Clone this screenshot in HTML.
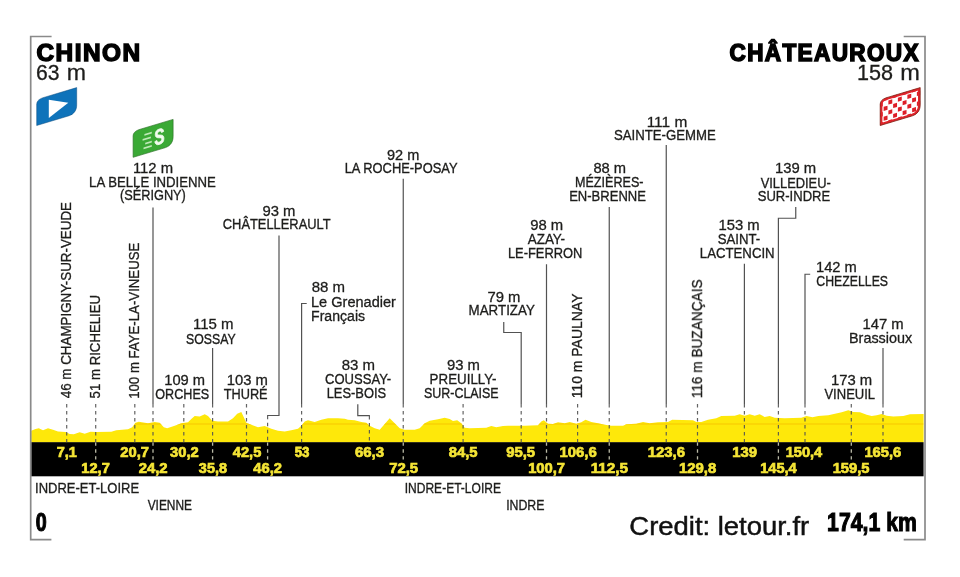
<!DOCTYPE html>
<html><head><meta charset="utf-8"><title>Stage profile</title>
<style>
html,body{margin:0;padding:0;background:#fff;}
body{width:960px;height:577px;overflow:hidden;font-family:"Liberation Sans",sans-serif;}
svg{display:block;font-family:"Liberation Sans",sans-serif;}
</style></head><body>
<svg width="960" height="577" viewBox="0 0 960 577">
<rect width="960" height="577" fill="#fff"/>
<!-- profile -->
<path d="M31.2,430.7 L35.5,429.0 L38.8,428.2 L43.0,430.2 L48.0,428.2 L53.0,429.8 L58.0,431.5 L65.5,432.0 L69.7,434.0 L73.8,434.3 L79.7,432.3 L84.7,433.7 L90.5,431.8 L96.3,432.0 L111.3,431.7 L116.3,430.2 L128.0,429.3 L132.2,427.3 L135.5,422.7 L138.8,421.8 L148.0,423.2 L154.7,422.0 L159.7,422.7 L163.8,427.3 L167.2,428.2 L174.7,425.7 L181.3,423.2 L188.0,422.3 L191.3,419.0 L194.7,416.0 L199.7,416.5 L204.7,414.3 L208.0,416.0 L212.2,420.7 L218.0,421.5 L228.0,421.5 L233.0,418.2 L237.2,413.7 L241.3,412.0 L243.8,417.3 L246.3,422.7 L251.3,424.8 L258.0,427.3 L264.7,426.0 L271.3,428.7 L278.0,430.7 L284.7,431.5 L291.3,430.3 L298.0,428.7 L301.3,425.7 L304.7,421.5 L308.0,420.3 L314.7,422.0 L321.3,419.8 L328.0,418.2 L338.0,418.2 L344.7,418.7 L348.0,419.8 L354.7,420.3 L361.3,422.0 L366.3,422.7 L369.7,425.7 L374.7,428.2 L379.7,429.8 L384.7,424.0 L389.7,418.2 L394.7,423.2 L399.7,428.2 L404.7,429.8 L414.7,429.8 L419.7,428.2 L424.7,423.2 L429.7,420.7 L438.0,419.3 L444.7,417.7 L449.7,419.0 L453.0,421.0 L457.2,420.3 L461.3,423.2 L464.7,427.7 L469.7,428.3 L486.3,427.7 L491.3,426.0 L496.3,427.3 L503.0,426.0 L508.0,425.7 L524.7,425.7 L538.0,425.3 L541.3,421.5 L543.8,420.3 L548.0,423.7 L553.0,424.0 L558.0,422.3 L564.7,423.2 L569.7,422.0 L576.3,423.7 L581.3,422.3 L585.5,419.8 L591.3,422.0 L598.0,423.2 L604.7,424.8 L611.3,425.7 L623.0,425.7 L626.3,424.3 L636.3,423.7 L643.0,422.0 L649.7,423.2 L658.0,422.3 L668.0,422.0 L672.2,419.8 L693.0,420.2 L696.3,422.0 L701.3,422.0 L708.0,419.8 L716.3,418.2 L721.3,416.0 L734.7,415.7 L739.7,414.3 L744.7,415.7 L749.7,414.3 L754.7,415.7 L759.7,414.3 L764.7,417.0 L769.7,416.0 L774.7,417.7 L784.7,418.2 L801.3,417.7 L806.5,416.0 L812.5,417.3 L818.3,416.0 L828.3,415.3 L835.0,413.7 L841.7,412.3 L848.3,410.3 L853.3,412.0 L860.0,412.3 L866.7,414.8 L871.7,416.0 L876.7,415.3 L881.7,414.0 L886.7,415.7 L893.3,416.5 L903.3,416.0 L910.0,414.3 L923.6,414.0 L923.6,442.5 L31.2,442.5 Z" fill="#fee80a"/>
<path d="M31.2,424 H923.6" stroke="#f7c600" stroke-width="1" fill="none" clip-path="url(#profclip)"/>
<clipPath id="profclip"><path d="M31.2,430.7 L35.5,429.0 L38.8,428.2 L43.0,430.2 L48.0,428.2 L53.0,429.8 L58.0,431.5 L65.5,432.0 L69.7,434.0 L73.8,434.3 L79.7,432.3 L84.7,433.7 L90.5,431.8 L96.3,432.0 L111.3,431.7 L116.3,430.2 L128.0,429.3 L132.2,427.3 L135.5,422.7 L138.8,421.8 L148.0,423.2 L154.7,422.0 L159.7,422.7 L163.8,427.3 L167.2,428.2 L174.7,425.7 L181.3,423.2 L188.0,422.3 L191.3,419.0 L194.7,416.0 L199.7,416.5 L204.7,414.3 L208.0,416.0 L212.2,420.7 L218.0,421.5 L228.0,421.5 L233.0,418.2 L237.2,413.7 L241.3,412.0 L243.8,417.3 L246.3,422.7 L251.3,424.8 L258.0,427.3 L264.7,426.0 L271.3,428.7 L278.0,430.7 L284.7,431.5 L291.3,430.3 L298.0,428.7 L301.3,425.7 L304.7,421.5 L308.0,420.3 L314.7,422.0 L321.3,419.8 L328.0,418.2 L338.0,418.2 L344.7,418.7 L348.0,419.8 L354.7,420.3 L361.3,422.0 L366.3,422.7 L369.7,425.7 L374.7,428.2 L379.7,429.8 L384.7,424.0 L389.7,418.2 L394.7,423.2 L399.7,428.2 L404.7,429.8 L414.7,429.8 L419.7,428.2 L424.7,423.2 L429.7,420.7 L438.0,419.3 L444.7,417.7 L449.7,419.0 L453.0,421.0 L457.2,420.3 L461.3,423.2 L464.7,427.7 L469.7,428.3 L486.3,427.7 L491.3,426.0 L496.3,427.3 L503.0,426.0 L508.0,425.7 L524.7,425.7 L538.0,425.3 L541.3,421.5 L543.8,420.3 L548.0,423.7 L553.0,424.0 L558.0,422.3 L564.7,423.2 L569.7,422.0 L576.3,423.7 L581.3,422.3 L585.5,419.8 L591.3,422.0 L598.0,423.2 L604.7,424.8 L611.3,425.7 L623.0,425.7 L626.3,424.3 L636.3,423.7 L643.0,422.0 L649.7,423.2 L658.0,422.3 L668.0,422.0 L672.2,419.8 L693.0,420.2 L696.3,422.0 L701.3,422.0 L708.0,419.8 L716.3,418.2 L721.3,416.0 L734.7,415.7 L739.7,414.3 L744.7,415.7 L749.7,414.3 L754.7,415.7 L759.7,414.3 L764.7,417.0 L769.7,416.0 L774.7,417.7 L784.7,418.2 L801.3,417.7 L806.5,416.0 L812.5,417.3 L818.3,416.0 L828.3,415.3 L835.0,413.7 L841.7,412.3 L848.3,410.3 L853.3,412.0 L860.0,412.3 L866.7,414.8 L871.7,416.0 L876.7,415.3 L881.7,414.0 L886.7,415.7 L893.3,416.5 L903.3,416.0 L910.0,414.3 L923.6,414.0 L923.6,442.5 L31.2,442.5 Z"/></clipPath>
<!-- black band -->
<rect x="31.2" y="442.2" width="892.4" height="34.1" fill="#000"/>
<!-- brackets -->
<g fill="none" stroke="#8a8a8a" stroke-width="1.7">
<path d="M51.6,36.5 H30.7 V539.7 H51.4"/>
<path d="M903.7,36.5 H925 V539.7 H903.7"/>
</g>
<!-- leader lines -->
<g fill="none" stroke="#525252" stroke-width="1.2">
<path d="M153.00,207.50 L153.00,404.00 M279.00,235.50 L279.00,415.50 L267.10,415.50 M403.25,178.75 L403.25,404.00 M212.60,348.00 L212.60,404.00 M306.70,303.50 L301.60,303.50 L301.60,404.00 M357.80,404.25 L357.80,415.70 L369.90,415.70 M503.75,322.00 L503.75,332.50 L521.20,332.50 L521.20,404.00 M546.50,264.25 L546.50,404.00 M609.25,207.00 L609.25,404.00 M666.25,145.00 L666.25,404.00 M744.40,263.75 L744.40,404.00 M795.75,207.00 L795.75,218.25 L778.40,218.25 L778.40,404.00 M810.20,274.25 L805.00,274.25 L805.00,404.00 M883.00,348.00 L883.00,404.00"/>
<path d="M66.70,404.00 V442.3 M95.70,404.00 V442.3 M134.80,404.00 V442.3 M153.00,404.00 V442.3 M183.80,404.00 V442.3 M212.60,404.00 V442.3 M246.50,404.00 V442.3 M301.60,404.00 V442.3 M403.25,404.00 V442.3 M463.10,404.00 V442.3 M521.20,404.00 V442.3 M546.50,404.00 V442.3 M577.60,404.00 V442.3 M609.25,404.00 V442.3 M666.25,404.00 V442.3 M697.50,404.00 V442.3 M744.40,404.00 V442.3 M778.40,404.00 V442.3 M805.00,404.00 V442.3 M851.30,404.00 V442.3 M883.00,404.00 V442.3" stroke-dasharray="3.5 3.5" stroke-opacity="0.9"/>
<path d="M267.60,415.70 V442.3" stroke-dasharray="3.5 3.5" stroke-opacity="0.9"/><path d="M369.40,415.90 V442.3" stroke-dasharray="3.5 3.5" stroke-opacity="0.9"/>
</g>
<path d="M95.70,442.4 V459.6 M153.00,442.4 V459.6 M212.60,442.4 V459.6 M267.60,442.4 V459.6 M403.25,442.4 V459.6 M546.50,442.4 V459.6 M609.25,442.4 V459.6 M697.50,442.4 V459.6 M778.40,442.4 V459.6 M851.30,442.4 V459.6" fill="none" stroke="#b9b9a6" stroke-width="1.3" stroke-dasharray="3.4 3.5"/>
<!-- start flag -->
<path d="M36.70,125.50 L36.70,104.20 C36.70,101.44 38.66,99.31 42.30,97.92 L76.70,87.60 L76.70,104.90 C76.70,110.06 74.04,114.00 69.10,115.78 Z" fill="#0f73ba"/>
<path d="M36.70,125.50 L36.70,104.20 C36.70,101.44 38.66,99.31 42.30,97.92 L76.70,87.60 L76.70,104.90 C76.70,110.06 74.04,114.00 69.10,115.78 Z" fill="none" stroke="#0a4a7c" stroke-width="0.7" stroke-opacity="0.7"/>
<path d="M48.80,99.80 L48.80,118.00 L68.30,102.80 Z" fill="#fff"/>
<!-- sprint flag -->
<path d="M133.10,157.30 L133.10,136.00 C133.10,133.24 135.06,131.11 138.70,129.72 L173.10,119.40 L173.10,136.70 C173.10,141.86 170.44,145.80 165.50,147.58 Z" fill="#3aa935"/>
<path d="M133.10,157.30 L133.10,136.00 C133.10,133.24 135.06,131.11 138.70,129.72 L173.10,119.40 L173.10,136.70 C173.10,141.86 170.44,145.80 165.50,147.58 Z" fill="none" stroke="#2a6e26" stroke-width="0.8" stroke-opacity="0.8"/>
<g transform="translate(133.1,131.4) skewY(-16.7)" >
<g stroke="#bfe8b8" stroke-width="1.7" fill="none">
<path d="M11.3,6.8 H18.7 M9.5,11.3 H17.8 M12.1,15.9 H18.7 M10.4,20.0 H18.7"/>
</g>
<path transform="translate(21.26,20.69) scale(15.2,21.8)" d="M0.6279296875 -0.1982421875Q0.6279296875 -0.09716796875 0.552978515625 -0.043701171875Q0.47802734375 0.009765625 0.3330078125 0.009765625Q0.20068359375 0.009765625 0.12548828125 -0.037109375Q0.05029296875 -0.083984375 0.02880859375 -0.17919921875L0.16796875 -0.2021484375Q0.18212890625 -0.1474609375 0.22314453125 -0.122802734375Q0.26416015625 -0.09814453125 0.3369140625 -0.09814453125Q0.48779296875 -0.09814453125 0.48779296875 -0.18994140625Q0.48779296875 -0.21923828125 0.470458984375 -0.23828125Q0.453125 -0.25732421875 0.421630859375 -0.27001953125Q0.39013671875 -0.28271484375 0.30078125 -0.30078125Q0.2236328125 -0.31884765625 0.193359375 -0.329833984375Q0.1630859375 -0.3408203125 0.138671875 -0.355712890625Q0.1142578125 -0.37060546875 0.09716796875 -0.3916015625Q0.080078125 -0.41259765625 0.070556640625 -0.44091796875Q0.06103515625 -0.46923828125 0.06103515625 -0.505859375Q0.06103515625 -0.59912109375 0.131103515625 -0.648681640625Q0.201171875 -0.6982421875 0.3349609375 -0.6982421875Q0.462890625 -0.6982421875 0.527099609375 -0.658203125Q0.59130859375 -0.6181640625 0.60986328125 -0.52587890625L0.47021484375 -0.5068359375Q0.45947265625 -0.55126953125 0.426513671875 -0.57373046875Q0.3935546875 -0.59619140625 0.33203125 -0.59619140625Q0.201171875 -0.59619140625 0.201171875 -0.51416015625Q0.201171875 -0.4873046875 0.215087890625 -0.47021484375Q0.22900390625 -0.453125 0.25634765625 -0.441162109375Q0.28369140625 -0.42919921875 0.3671875 -0.4111328125Q0.46630859375 -0.39013671875 0.509033203125 -0.372314453125Q0.5517578125 -0.3544921875 0.57666015625 -0.330810546875Q0.6015625 -0.30712890625 0.61474609375 -0.274169921875Q0.6279296875 -0.2412109375 0.6279296875 -0.1982421875Z" fill="#f1fbee" stroke="#f1fbee" stroke-width="0.043" stroke-linejoin="round"/>
</g>
<!-- finish flag -->
<clipPath id="rclip"><path d="M880.20,125.50 L880.20,104.20 C880.20,101.44 882.16,99.31 885.80,97.92 L920.20,87.60 L920.20,104.90 C920.20,110.06 917.54,114.00 912.60,115.78 Z"/></clipPath>
<path d="M880.20,125.50 L880.20,104.20 C880.20,101.44 882.16,99.31 885.80,97.92 L920.20,87.60 L920.20,104.90 C920.20,110.06 917.54,114.00 912.60,115.78 Z" fill="#fff"/>
<g clip-path="url(#rclip)"><g transform="translate(880.2,99.6) skewY(-16.7)" fill="#dd1f28"><rect x="3.43" y="-1.60" width="3.9" height="4.1"/><rect x="12.93" y="-1.60" width="3.9" height="4.1"/><rect x="22.43" y="-1.60" width="3.9" height="4.1"/><rect x="31.93" y="-1.60" width="3.9" height="4.1"/><rect x="41.43" y="-1.60" width="3.9" height="4.1"/><rect x="-1.32" y="3.35" width="3.9" height="4.1"/><rect x="8.18" y="3.35" width="3.9" height="4.1"/><rect x="17.68" y="3.35" width="3.9" height="4.1"/><rect x="27.18" y="3.35" width="3.9" height="4.1"/><rect x="36.68" y="3.35" width="3.9" height="4.1"/><rect x="3.43" y="8.30" width="3.9" height="4.1"/><rect x="12.93" y="8.30" width="3.9" height="4.1"/><rect x="22.43" y="8.30" width="3.9" height="4.1"/><rect x="31.93" y="8.30" width="3.9" height="4.1"/><rect x="41.43" y="8.30" width="3.9" height="4.1"/><rect x="-1.32" y="13.25" width="3.9" height="4.1"/><rect x="8.18" y="13.25" width="3.9" height="4.1"/><rect x="17.68" y="13.25" width="3.9" height="4.1"/><rect x="27.18" y="13.25" width="3.9" height="4.1"/><rect x="36.68" y="13.25" width="3.9" height="4.1"/><rect x="3.43" y="18.20" width="3.9" height="4.1"/><rect x="12.93" y="18.20" width="3.9" height="4.1"/><rect x="22.43" y="18.20" width="3.9" height="4.1"/><rect x="31.93" y="18.20" width="3.9" height="4.1"/><rect x="41.43" y="18.20" width="3.9" height="4.1"/><rect x="-1.32" y="23.15" width="3.9" height="4.1"/><rect x="8.18" y="23.15" width="3.9" height="4.1"/><rect x="17.68" y="23.15" width="3.9" height="4.1"/><rect x="27.18" y="23.15" width="3.9" height="4.1"/><rect x="36.68" y="23.15" width="3.9" height="4.1"/><rect x="3.43" y="28.10" width="3.9" height="4.1"/><rect x="12.93" y="28.10" width="3.9" height="4.1"/><rect x="22.43" y="28.10" width="3.9" height="4.1"/><rect x="31.93" y="28.10" width="3.9" height="4.1"/><rect x="41.43" y="28.10" width="3.9" height="4.1"/></g></g>
<path d="M880.20,125.50 L880.20,104.20 C880.20,101.44 882.16,99.31 885.80,97.92 L920.20,87.60 L920.20,104.90 C920.20,110.06 917.54,114.00 912.60,115.78 Z" fill="none" stroke="#e0232a" stroke-width="4.4" clip-path="url(#rclip)"/>
<path d="M880.20,125.50 L880.20,104.20 C880.20,101.44 882.16,99.31 885.80,97.92 L920.20,87.60 L920.20,104.90 C920.20,110.06 917.54,114.00 912.60,115.78 Z" fill="none" stroke="#7a2417" stroke-width="0.9" stroke-opacity="0.85"/>
<!-- texts -->
<g opacity="0.999">
<text transform="translate(132.97,172.5) scale(0.99,1)" font-size="15" fill="#1d1d1b" stroke="#1d1d1b" stroke-width="0.3" stroke-linejoin="miter">112 m</text>
<text transform="translate(89.12,186.8) scale(0.88,1)" font-size="15" fill="#1d1d1b" stroke="#1d1d1b" stroke-width="0.34" stroke-linejoin="miter">LA BELLE INDIENNE</text>
<text transform="translate(120.05,200.25) scale(0.85,1)" font-size="15" fill="#1d1d1b" stroke="#1d1d1b" stroke-width="0.35" stroke-linejoin="miter">(SÉRIGNY)</text>
<text transform="translate(262.45,215.75) scale(0.99,1)" font-size="15" fill="#1d1d1b" stroke="#1d1d1b" stroke-width="0.3" stroke-linejoin="miter">93 m</text>
<text transform="translate(222.79,229.1) scale(0.86,1)" font-size="15" fill="#1d1d1b" stroke="#1d1d1b" stroke-width="0.35" stroke-linejoin="miter">CHÂTELLERAULT</text>
<text transform="translate(386.97,159.5) scale(0.97,1)" font-size="15" fill="#1d1d1b" stroke="#1d1d1b" stroke-width="0.31" stroke-linejoin="miter">92 m</text>
<text transform="translate(344.64,172.5) scale(0.86,1)" font-size="15" fill="#1d1d1b" stroke="#1d1d1b" stroke-width="0.35" stroke-linejoin="miter">LA ROCHE-POSAY</text>
<text transform="translate(192.96,329.25) scale(1,1)" font-size="15" fill="#1d1d1b" stroke="#1d1d1b" stroke-width="0.3" stroke-linejoin="miter">115 m</text>
<text transform="translate(186.02,343.5) scale(0.82,1)" font-size="15" fill="#1d1d1b" stroke="#1d1d1b" stroke-width="0.37" stroke-linejoin="miter">SOSSAY</text>
<text transform="translate(164.23,384.5) scale(0.98,1)" font-size="15" fill="#1d1d1b" stroke="#1d1d1b" stroke-width="0.31" stroke-linejoin="miter">109 m</text>
<text transform="translate(155.31,398.5) scale(0.84,1)" font-size="15" fill="#1d1d1b" stroke="#1d1d1b" stroke-width="0.36" stroke-linejoin="miter">ORCHES</text>
<text transform="translate(226.72,384.75) scale(0.99,1)" font-size="15" fill="#1d1d1b" stroke="#1d1d1b" stroke-width="0.3" stroke-linejoin="miter">103 m</text>
<text transform="translate(223.7,398.5) scale(0.85,1)" font-size="15" fill="#1d1d1b" stroke="#1d1d1b" stroke-width="0.35" stroke-linejoin="miter">THURÉ</text>
<text transform="translate(311.68,292) scale(1,1)" font-size="15" fill="#1d1d1b" stroke="#1d1d1b" stroke-width="0.3" stroke-linejoin="miter">88 m</text>
<text transform="translate(311.02,306.75) scale(0.97,1)" font-size="15" fill="#1d1d1b" stroke="#1d1d1b" stroke-width="0.31" stroke-linejoin="miter">Le Grenadier</text>
<text transform="translate(311.04,321.1) scale(0.94,1)" font-size="15" fill="#1d1d1b" stroke="#1d1d1b" stroke-width="0.32" stroke-linejoin="miter">Français</text>
<text transform="translate(341.68,370) scale(1,1)" font-size="15" fill="#1d1d1b" stroke="#1d1d1b" stroke-width="0.3" stroke-linejoin="miter">83 m</text>
<text transform="translate(325.04,384.25) scale(0.87,1)" font-size="15" fill="#1d1d1b" stroke="#1d1d1b" stroke-width="0.34" stroke-linejoin="miter">COUSSAY-</text>
<text transform="translate(326.65,397.75) scale(0.86,1)" font-size="15" fill="#1d1d1b" stroke="#1d1d1b" stroke-width="0.35" stroke-linejoin="miter">LES-BOIS</text>
<text transform="translate(446.96,370) scale(0.99,1)" font-size="15" fill="#1d1d1b" stroke="#1d1d1b" stroke-width="0.3" stroke-linejoin="miter">93 m</text>
<text transform="translate(429.61,384.25) scale(0.89,1)" font-size="15" fill="#1d1d1b" stroke="#1d1d1b" stroke-width="0.34" stroke-linejoin="miter">PREUILLY-</text>
<text transform="translate(424.01,398) scale(0.83,1)" font-size="15" fill="#1d1d1b" stroke="#1d1d1b" stroke-width="0.36" stroke-linejoin="miter">SUR-CLAISE</text>
<text transform="translate(487.45,301.75) scale(0.99,1)" font-size="15" fill="#1d1d1b" stroke="#1d1d1b" stroke-width="0.3" stroke-linejoin="miter">79 m</text>
<text transform="translate(468.61,314.5) scale(0.89,1)" font-size="15" fill="#1d1d1b" stroke="#1d1d1b" stroke-width="0.34" stroke-linejoin="miter">MARTIZAY</text>
<text transform="translate(530.21,230) scale(0.99,1)" font-size="15" fill="#1d1d1b" stroke="#1d1d1b" stroke-width="0.3" stroke-linejoin="miter">98 m</text>
<text transform="translate(527.65,243.75) scale(0.9,1)" font-size="15" fill="#1d1d1b" stroke="#1d1d1b" stroke-width="0.33" stroke-linejoin="miter">AZAY-</text>
<text transform="translate(507.9,257.5) scale(0.86,1)" font-size="15" fill="#1d1d1b" stroke="#1d1d1b" stroke-width="0.35" stroke-linejoin="miter">LE-FERRON</text>
<text transform="translate(593.44,173.4) scale(0.98,1)" font-size="15" fill="#1d1d1b" stroke="#1d1d1b" stroke-width="0.31" stroke-linejoin="miter">88 m</text>
<text transform="translate(574.92,187) scale(0.84,1)" font-size="15" fill="#1d1d1b" stroke="#1d1d1b" stroke-width="0.36" stroke-linejoin="miter">MÉZIÈRES-</text>
<text transform="translate(569.13,201.25) scale(0.87,1)" font-size="15" fill="#1d1d1b" stroke="#1d1d1b" stroke-width="0.35" stroke-linejoin="miter">EN-BRENNE</text>
<text transform="translate(646.68,126.8) scale(1.03,1)" font-size="15" fill="#1d1d1b" stroke="#1d1d1b" stroke-width="0.29" stroke-linejoin="miter">111 m</text>
<text transform="translate(613.99,140.3) scale(0.88,1)" font-size="15" fill="#1d1d1b" stroke="#1d1d1b" stroke-width="0.34" stroke-linejoin="miter">SAINTE-GEMME</text>
<text transform="translate(718.47,230) scale(0.99,1)" font-size="15" fill="#1d1d1b" stroke="#1d1d1b" stroke-width="0.3" stroke-linejoin="miter">153 m</text>
<text transform="translate(717.74,243.75) scale(0.88,1)" font-size="15" fill="#1d1d1b" stroke="#1d1d1b" stroke-width="0.34" stroke-linejoin="miter">SAINT-</text>
<text transform="translate(699.87,257.5) scale(0.88,1)" font-size="15" fill="#1d1d1b" stroke="#1d1d1b" stroke-width="0.34" stroke-linejoin="miter">LACTENCIN</text>
<text transform="translate(774.97,173.25) scale(0.99,1)" font-size="15" fill="#1d1d1b" stroke="#1d1d1b" stroke-width="0.3" stroke-linejoin="miter">139 m</text>
<text transform="translate(760.65,187.5) scale(0.86,1)" font-size="15" fill="#1d1d1b" stroke="#1d1d1b" stroke-width="0.35" stroke-linejoin="miter">VILLEDIEU-</text>
<text transform="translate(757.74,201.25) scale(0.87,1)" font-size="15" fill="#1d1d1b" stroke="#1d1d1b" stroke-width="0.34" stroke-linejoin="miter">SUR-INDRE</text>
<text transform="translate(815.98,271.75) scale(0.98,1)" font-size="15" fill="#1d1d1b" stroke="#1d1d1b" stroke-width="0.31" stroke-linejoin="miter">142 m</text>
<text transform="translate(816.32,285.5) scale(0.82,1)" font-size="15" fill="#1d1d1b" stroke="#1d1d1b" stroke-width="0.36" stroke-linejoin="miter">CHEZELLES</text>
<text transform="translate(862.47,329.25) scale(0.99,1)" font-size="15" fill="#1d1d1b" stroke="#1d1d1b" stroke-width="0.3" stroke-linejoin="miter">147 m</text>
<text transform="translate(849.02,343.25) scale(0.96,1)" font-size="15" fill="#1d1d1b" stroke="#1d1d1b" stroke-width="0.31" stroke-linejoin="miter">Brassioux</text>
<text transform="translate(830.97,384.5) scale(0.99,1)" font-size="15" fill="#1d1d1b" stroke="#1d1d1b" stroke-width="0.3" stroke-linejoin="miter">173 m</text>
<text transform="translate(824.4,398.5) scale(0.87,1)" font-size="15" fill="#1d1d1b" stroke="#1d1d1b" stroke-width="0.34" stroke-linejoin="miter">VINEUIL</text>
<text transform="translate(35.03,492.5) scale(0.93,1)" font-size="14" fill="#1d1d1b" stroke="#1d1d1b" stroke-width="0.32" stroke-linejoin="miter">INDRE-ET-LOIRE</text>
<text transform="translate(147.65,510.1) scale(0.85,1)" font-size="14" fill="#1d1d1b" stroke="#1d1d1b" stroke-width="0.35" stroke-linejoin="miter">VIENNE</text>
<text transform="translate(404.71,492.5) scale(0.86,1)" font-size="14" fill="#1d1d1b" stroke="#1d1d1b" stroke-width="0.35" stroke-linejoin="miter">INDRE-ET-LOIRE</text>
<text transform="translate(506.18,510.1) scale(0.88,1)" font-size="14" fill="#1d1d1b" stroke="#1d1d1b" stroke-width="0.34" stroke-linejoin="miter">INDRE</text>
<text transform="translate(36.49,60.5) scale(1.06,1)" letter-spacing="1.4" font-size="23" fill="#000" font-weight="bold" stroke="#000" stroke-width="1.42" stroke-linejoin="miter">CHINON</text>
<text transform="translate(36.05,79.8) scale(0.98,1)" font-size="21.6" fill="#1d1d1b" stroke="#1d1d1b" stroke-width="0.3" stroke-linejoin="miter">63</text>
<text transform="translate(66.81,79.8) scale(1.07,1)" font-size="21.6" fill="#1d1d1b" stroke="#1d1d1b" stroke-width="0.28" stroke-linejoin="miter">m</text>
<text transform="translate(729.55,60.5) scale(0.98,1)" letter-spacing="1.4" font-size="23" fill="#000" font-weight="bold" stroke="#000" stroke-width="1.53" stroke-linejoin="miter">CHÂTEAUROUX</text>
<text transform="translate(857.05,79.8) scale(1,1)" font-size="21.6" fill="#1d1d1b" stroke="#1d1d1b" stroke-width="0.3" stroke-linejoin="miter">158</text>
<text transform="translate(900.28,79.8) scale(1.09,1)" font-size="21.6" fill="#1d1d1b" stroke="#1d1d1b" stroke-width="0.28" stroke-linejoin="miter">m</text>
<text transform="translate(35.73,530.5) scale(0.77,1)" font-size="25.6" fill="#000" font-weight="bold" stroke="#000" stroke-width="1.16" stroke-linejoin="miter">0</text>
<text transform="translate(827.12,530.5) scale(0.83,1)" font-size="25.6" fill="#000" font-weight="bold" stroke="#000" stroke-width="1.08" stroke-linejoin="miter">174,1 km</text>
<text transform="translate(629.36,534.9) scale(1.08,1)" font-size="25.4" fill="#111" stroke="#111" stroke-width="0.46" stroke-linejoin="miter">Credit: letour.fr</text>
<text transform="translate(56.8,457.3) scale(0.99,1)" font-size="14.6" fill="#f6e637" font-weight="bold" stroke="#f6e637" stroke-width="0.71" stroke-linejoin="miter">7,1</text>
<text transform="translate(81.34,473.1) scale(1,1)" font-size="14.6" fill="#f6e637" font-weight="bold" stroke="#f6e637" stroke-width="0.7" stroke-linejoin="miter">12,7</text>
<text transform="translate(120.29,457.3) scale(1.01,1)" font-size="14.6" fill="#f6e637" font-weight="bold" stroke="#f6e637" stroke-width="0.69" stroke-linejoin="miter">20,7</text>
<text transform="translate(138.64,473.1) scale(1.02,1)" font-size="14.6" fill="#f6e637" font-weight="bold" stroke="#f6e637" stroke-width="0.69" stroke-linejoin="miter">24,2</text>
<text transform="translate(170.12,457.3) scale(1.01,1)" font-size="14.6" fill="#f6e637" font-weight="bold" stroke="#f6e637" stroke-width="0.69" stroke-linejoin="miter">30,2</text>
<text transform="translate(198.87,473.1) scale(0.99,1)" font-size="14.6" fill="#f6e637" font-weight="bold" stroke="#f6e637" stroke-width="0.71" stroke-linejoin="miter">35,8</text>
<text transform="translate(232.85,457.3) scale(1,1)" font-size="14.6" fill="#f6e637" font-weight="bold" stroke="#f6e637" stroke-width="0.7" stroke-linejoin="miter">42,5</text>
<text transform="translate(253.35,473.1) scale(1.01,1)" font-size="14.6" fill="#f6e637" font-weight="bold" stroke="#f6e637" stroke-width="0.69" stroke-linejoin="miter">46,2</text>
<text transform="translate(294.64,457.3) scale(0.91,1)" font-size="14.6" fill="#f6e637" font-weight="bold" stroke="#f6e637" stroke-width="0.77" stroke-linejoin="miter">53</text>
<text transform="translate(354.88,457.3) scale(1.03,1)" font-size="14.6" fill="#f6e637" font-weight="bold" stroke="#f6e637" stroke-width="0.68" stroke-linejoin="miter">66,3</text>
<text transform="translate(389.14,473.1) scale(1.02,1)" font-size="14.6" fill="#f6e637" font-weight="bold" stroke="#f6e637" stroke-width="0.69" stroke-linejoin="miter">72,5</text>
<text transform="translate(448.64,457.3) scale(1.02,1)" font-size="14.6" fill="#f6e637" font-weight="bold" stroke="#f6e637" stroke-width="0.69" stroke-linejoin="miter">84,5</text>
<text transform="translate(506.14,457.3) scale(1.02,1)" font-size="14.6" fill="#f6e637" font-weight="bold" stroke="#f6e637" stroke-width="0.69" stroke-linejoin="miter">95,5</text>
<text transform="translate(528.17,473.1) scale(1.01,1)" font-size="14.6" fill="#f6e637" font-weight="bold" stroke="#f6e637" stroke-width="0.69" stroke-linejoin="miter">100,7</text>
<text transform="translate(559.42,457.3) scale(1.02,1)" font-size="14.6" fill="#f6e637" font-weight="bold" stroke="#f6e637" stroke-width="0.68" stroke-linejoin="miter">106,6</text>
<text transform="translate(590.65,473.1) scale(1.05,1)" font-size="14.6" fill="#f6e637" font-weight="bold" stroke="#f6e637" stroke-width="0.67" stroke-linejoin="miter">112,5</text>
<text transform="translate(647.67,457.3) scale(1.02,1)" font-size="14.6" fill="#f6e637" font-weight="bold" stroke="#f6e637" stroke-width="0.68" stroke-linejoin="miter">123,6</text>
<text transform="translate(678.92,473.1) scale(1.02,1)" font-size="14.6" fill="#f6e637" font-weight="bold" stroke="#f6e637" stroke-width="0.68" stroke-linejoin="miter">129,8</text>
<text transform="translate(732.17,457.3) scale(1.02,1)" font-size="14.6" fill="#f6e637" font-weight="bold" stroke="#f6e637" stroke-width="0.69" stroke-linejoin="miter">139</text>
<text transform="translate(760.19,473.1) scale(1,1)" font-size="14.6" fill="#f6e637" font-weight="bold" stroke="#f6e637" stroke-width="0.7" stroke-linejoin="miter">145,4</text>
<text transform="translate(785.69,457.3) scale(1,1)" font-size="14.6" fill="#f6e637" font-weight="bold" stroke="#f6e637" stroke-width="0.7" stroke-linejoin="miter">150,4</text>
<text transform="translate(832.68,473.1) scale(1.01,1)" font-size="14.6" fill="#f6e637" font-weight="bold" stroke="#f6e637" stroke-width="0.69" stroke-linejoin="miter">159,5</text>
<text transform="translate(864.43,457.3) scale(1.01,1)" font-size="14.6" fill="#f6e637" font-weight="bold" stroke="#f6e637" stroke-width="0.69" stroke-linejoin="miter">165,6</text>
<text transform="translate(71.3,398.21) rotate(-90) scale(0.88,1)" font-size="15.2" fill="#1d1d1b" stroke="#1d1d1b" stroke-width="0.3">46 m CHAMPIGNY-SUR-VEUDE</text>
<text transform="translate(100.1,398.41) rotate(-90) scale(0.87,1)" font-size="15.2" fill="#1d1d1b" stroke="#1d1d1b" stroke-width="0.3">51 m RICHELIEU</text>
<text transform="translate(139.3,398.83) rotate(-90) scale(0.87,1)" font-size="15.2" fill="#1d1d1b" stroke="#1d1d1b" stroke-width="0.3">100 m FAYE-LA-VINEUSE</text>
<text transform="translate(582.3,398.37) rotate(-90) scale(0.92,1)" font-size="15.2" fill="#1d1d1b" stroke="#1d1d1b" stroke-width="0.3">110 m PAULNAY</text>
<text transform="translate(702,398.35) rotate(-90) scale(0.9,1)" font-size="15.2" fill="#1d1d1b" stroke="#1d1d1b" stroke-width="0.3">116 m BUZANÇAIS</text>
</g>
</svg>
</body></html>
